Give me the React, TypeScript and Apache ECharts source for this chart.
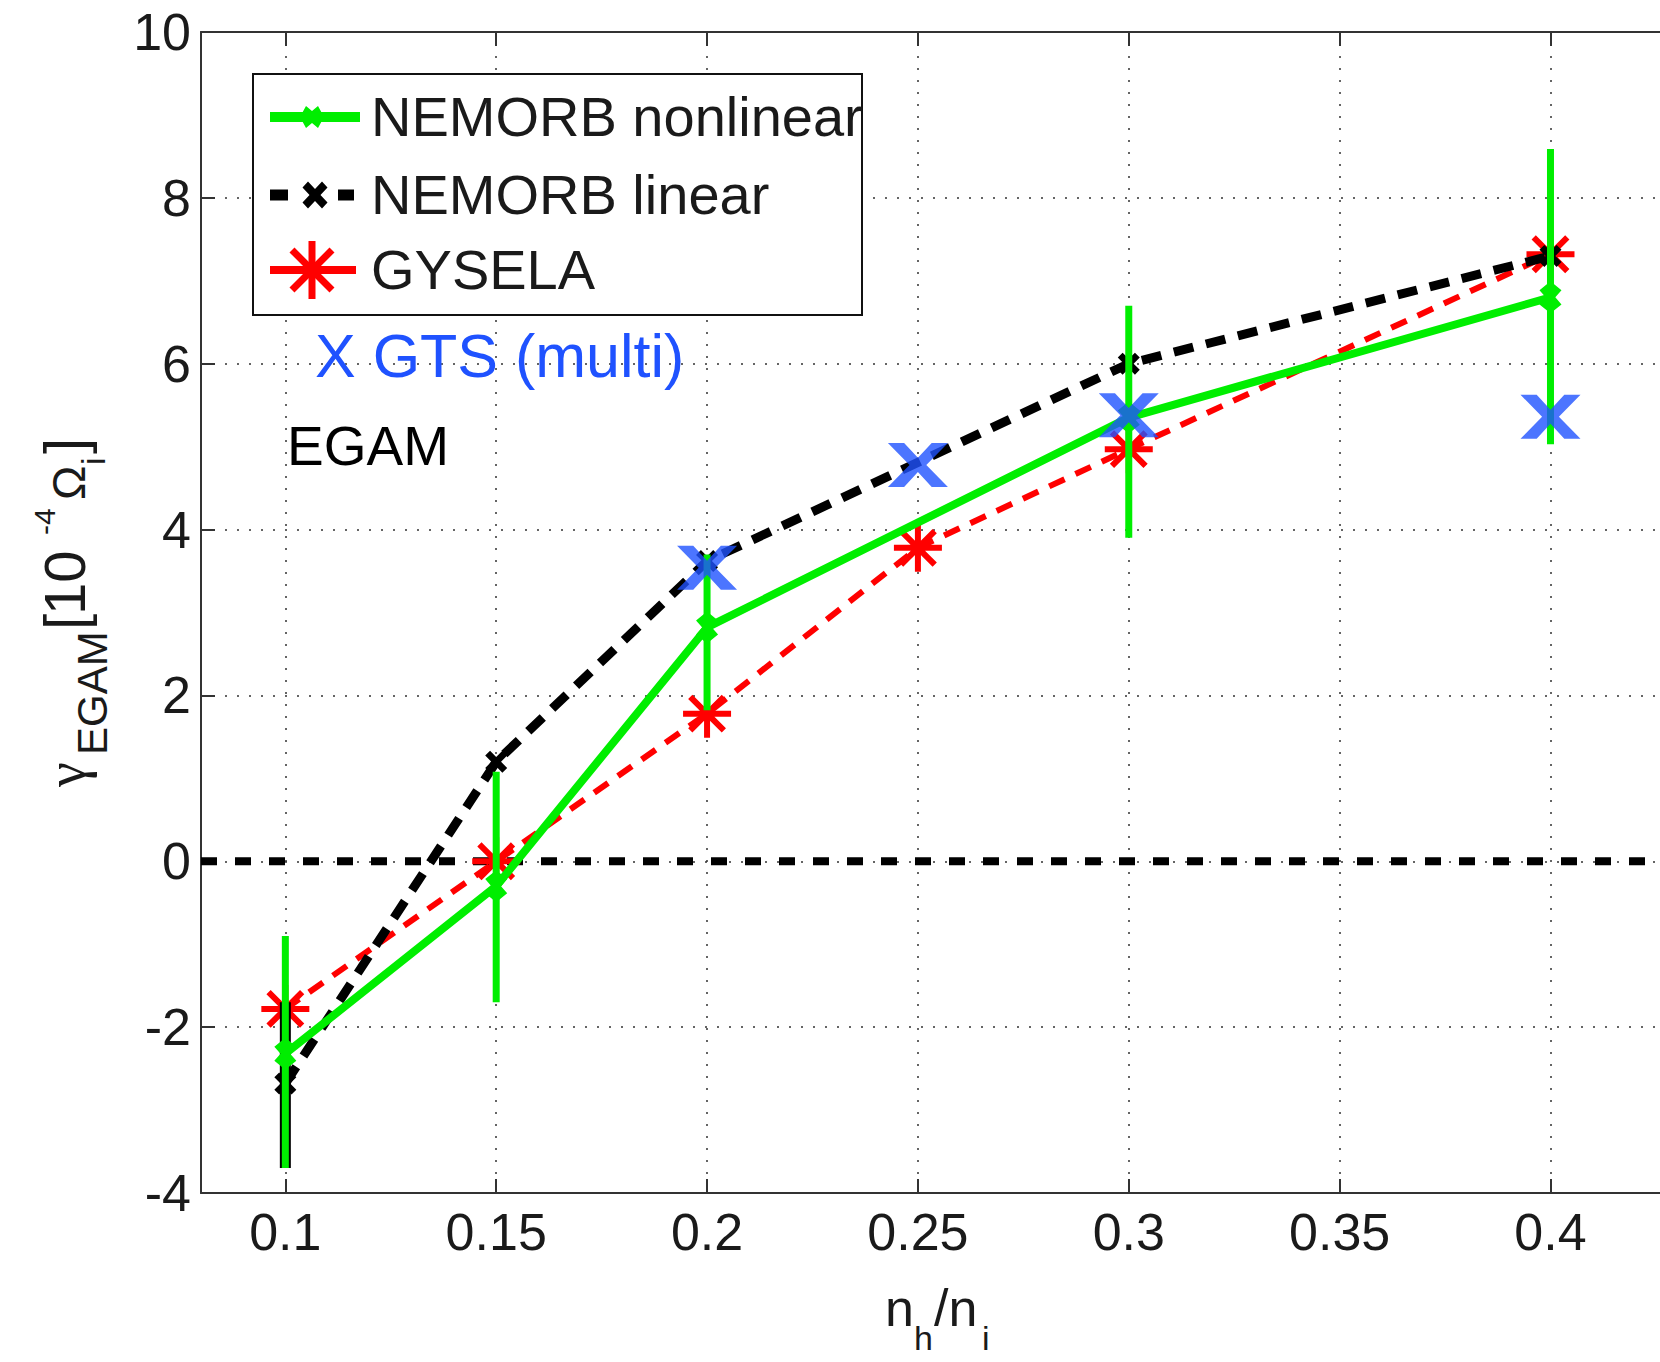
import React, { useEffect, useRef } from 'react';
import * as echarts from 'echarts';

// ---- axis ranges ----
const X_MIN = 0.08;
const X_MAX = 0.43;
const Y_MIN = -4;
const Y_MAX = 10;
const Y_STEP = 2;

// ---- NEMORB nonlinear (green, with error bars) ----
const nlX = [0.1, 0.15, 0.2, 0.3, 0.4];
const nlY = [-2.32, -0.3, 2.82, 5.35, 6.8];
const nlLow = [-3.7, -1.7, 1.82, 3.9, 5.03];
const nlHigh = [-0.9, 1.08, 3.7, 6.7, 8.59];

// ---- NEMORB linear (black dashed) ----
const linX = [0.1, 0.15, 0.2, 0.3, 0.4];
const linY = [-2.68, 1.2, 3.62, 6.0, 7.3];
const linErrX = [0.1];
const linLow = [-3.7];
const linHigh = [-1.7];

// ---- GYSELA (red dashed, asterisks) ----
const gyX = [0.1, 0.15, 0.2, 0.25, 0.3, 0.4];
const gyY = [-1.78, 0.0, 1.78, 3.78, 4.97, 7.32];

// ---- GTS (multi) (blue X) ----
const gtsX = [0.2, 0.25, 0.3, 0.4];
const gtsY = [3.54, 4.78, 5.38, 5.36];

// ---- zero reference line ----
const zeroX = [X_MIN, X_MAX];
const zeroY = [0, 0];

const legendLabels = ['NEMORB nonlinear', 'NEMORB linear', 'GYSELA'];

const GREEN = '#00ee00';
const RED = '#ff0000';
const BLUE = '#1f52ff';
const FONT = 'Liberation Sans';
const TXT = '#1a1a1a';

const STAR = 'path://M50 0L50 100M0 50L100 50M15 15L85 85M85 15L15 85';
const BIGX = 'path://M0 0L27 0L50 34L73 0L100 0L64 50L100 100L73 100L50 66L27 100L0 100L36 50Z';
const SMALLX = 'path://M0 22L22 0L50 28L78 0L100 22L72 50L100 78L78 100L50 72L22 100L0 78L28 50Z';
const DDIAMOND = 'path://M50 0L100 28L72 50L100 72L50 100L0 72L28 50L0 28Z';

const pair = (xs: number[], ys: number[]) => xs.map((x, i) => [x, ys[i]]);
const triple = (xs: number[], lo: number[], hi: number[]) => xs.map((x, i) => [x, lo[i], hi[i]]);

const txt = (text: string, x: number, baseline: number, fontSize: number, extra: any = {}) => ({
  type: 'text',
  x,
  y: baseline - 0.3465 * fontSize,
  z: 100,
  style: {
    text,
    fontSize,
    fontFamily: FONT,
    fill: TXT,
    align: 'left',
    verticalAlign: 'middle',
    ...extra,
  },
});

const xPoly = (cx: number, cy: number, w: number, h: number) =>
  [[0, 22], [22, 0], [50, 28], [78, 0], [100, 22], [72, 50], [100, 78], [78, 100], [50, 72], [22, 100], [0, 78], [28, 50]].map(
    ([a, b]) => [cx + ((a - 50) * w) / 100, cy + ((b - 50) * h) / 100]
  );

const errBarRender = (color: string, width: number) => (params: any, api: any) => {
  const x = api.value(0);
  const p1 = api.coord([x, api.value(1)]);
  const p2 = api.coord([x, api.value(2)]);
  return {
    type: 'line',
    shape: { x1: p1[0], y1: p1[1], x2: p2[0], y2: p2[1] },
    style: { stroke: color, lineWidth: width },
  };
};

export default function App() {
  const ref = useRef<HTMLDivElement>(null);

  useEffect(() => {
    if (!ref.current) return;
    const chart = echarts.init(ref.current, undefined, { renderer: 'svg' });

    const axisLineStyle = { color: '#333', width: 2 };
    const gridLine = { show: true, lineStyle: { type: [2, 10], color: '#333', width: 1.5 } };

    const legendRows = [117, 195, 270];

    const option: any = {
      animation: false,
      backgroundColor: '#fff',
      grid: {
        left: 201,
        top: 32,
        width: 1476,
        height: 1161,
        containLabel: false,
        outerBoundsMode: 'none',
      },
      xAxis: [
        {
          type: 'value',
          min: X_MIN,
          max: X_MAX,
          splitNumber: 7,
          position: 'bottom',
          axisLine: { onZero: false, lineStyle: axisLineStyle },
          axisTick: { inside: true, length: 14, lineStyle: axisLineStyle },
          axisLabel: {
            showMinLabel: false,
            showMaxLabel: false,
            fontSize: 52,
            fontFamily: FONT,
            color: TXT,
            margin: 13,
          },
          splitLine: gridLine,
        },
        {
          type: 'value',
          min: X_MIN,
          max: X_MAX,
          splitNumber: 7,
          position: 'top',
          axisLine: { onZero: false, lineStyle: axisLineStyle },
          axisTick: { inside: true, length: 14, lineStyle: axisLineStyle },
          axisLabel: { show: false },
          splitLine: { show: false },
        },
      ],
      yAxis: {
        type: 'value',
        min: Y_MIN,
        max: Y_MAX,
        interval: Y_STEP,
        axisLine: { show: true, onZero: false, lineStyle: axisLineStyle },
        axisTick: { show: true, inside: true, length: 14, lineStyle: axisLineStyle },
        axisLabel: { fontSize: 52, fontFamily: FONT, color: TXT, margin: 10 },
        splitLine: gridLine,
      },
      series: [
        {
          name: 'zero',
          type: 'line',
          data: pair(zeroX, zeroY),
          showSymbol: false,
          silent: true,
          lineStyle: { color: '#000', width: 8, type: [16, 18] },
          z: 2,
        },
        {
          name: 'GYSELA',
          type: 'line',
          data: pair(gyX, gyY),
          symbol: STAR,
          symbolSize: 48,
          itemStyle: { color: 'rgba(0,0,0,0)', borderColor: RED, borderWidth: 6 },
          lineStyle: { color: RED, width: 6, type: [17, 12] },
          z: 3,
        },
        {
          name: 'linErr',
          type: 'custom',
          data: triple(linErrX, linLow, linHigh),
          encode: { x: 0, y: [1, 2] },
          renderItem: errBarRender('#000', 11),
          z: 4,
        },
        {
          name: 'NEMORB linear',
          type: 'line',
          data: pair(linX, linY),
          symbol: SMALLX,
          symbolSize: 22,
          itemStyle: { color: '#000' },
          lineStyle: { color: '#000', width: 9, type: [20, 13] },
          z: 4,
        },
        {
          name: 'nlErr',
          type: 'custom',
          data: triple(nlX, nlLow, nlHigh),
          encode: { x: 0, y: [1, 2] },
          renderItem: errBarRender(GREEN, 7),
          z: 5,
        },
        {
          name: 'NEMORB nonlinear',
          type: 'line',
          data: pair(nlX, nlY),
          symbol: DDIAMOND,
          symbolSize: [22, 32],
          itemStyle: { color: GREEN },
          lineStyle: { color: GREEN, width: 8 },
          z: 5,
        },
        {
          name: 'GTS (multi)',
          type: 'scatter',
          data: pair(gtsX, gtsY),
          symbol: BIGX,
          symbolSize: [60, 44],
          itemStyle: { color: BLUE },
          z: 6,
        },
      ],
      graphic: [
        // legend box
        {
          type: 'rect',
          z: 99,
          shape: { x: 253, y: 74, width: 609, height: 241 },
          style: { fill: '#fff', stroke: '#111', lineWidth: 2 },
        },
        // green sample
        {
          type: 'line',
          z: 100,
          shape: { x1: 270, y1: legendRows[0], x2: 360, y2: legendRows[0] },
          style: { stroke: GREEN, lineWidth: 10 },
        },
        {
          type: 'polygon',
          z: 101,
          shape: {
            points: [
              [300, legendRows[0]], [306, legendRows[0] - 11], [312, legendRows[0] - 6], [318, legendRows[0] - 11],
              [324, legendRows[0]], [318, legendRows[0] + 11], [312, legendRows[0] + 6], [306, legendRows[0] + 11],
            ],
          },
          style: { fill: GREEN },
        },
        // black sample
        {
          type: 'line',
          z: 100,
          shape: { x1: 270, y1: legendRows[1], x2: 288, y2: legendRows[1] },
          style: { stroke: '#000', lineWidth: 11 },
        },
        {
          type: 'line',
          z: 100,
          shape: { x1: 338, y1: legendRows[1], x2: 354, y2: legendRows[1] },
          style: { stroke: '#000', lineWidth: 11 },
        },
        {
          type: 'polygon',
          z: 101,
          shape: { points: xPoly(315, legendRows[1], 25, 27) },
          style: { fill: '#000' },
        },
        // red sample
        {
          type: 'line',
          z: 100,
          shape: { x1: 270, y1: legendRows[2], x2: 356, y2: legendRows[2] },
          style: { stroke: RED, lineWidth: 8 },
        },
        {
          type: 'line',
          z: 101,
          shape: { x1: 312, y1: legendRows[2] - 29, x2: 312, y2: legendRows[2] + 29 },
          style: { stroke: RED, lineWidth: 7 },
        },
        {
          type: 'line',
          z: 101,
          shape: { x1: 292, y1: legendRows[2] - 20, x2: 332, y2: legendRows[2] + 20 },
          style: { stroke: RED, lineWidth: 7 },
        },
        {
          type: 'line',
          z: 101,
          shape: { x1: 332, y1: legendRows[2] - 20, x2: 292, y2: legendRows[2] + 20 },
          style: { stroke: RED, lineWidth: 7 },
        },
        txt(legendLabels[0], 371, legendRows[0] + 19, 56),
        txt(legendLabels[1], 371, legendRows[1] + 19, 56),
        txt(legendLabels[2], 371, legendRows[2] + 19, 56),
        // annotations
        txt('X GTS (multi)', 315, 377, 61, { fill: BLUE }),
        txt('EGAM', 287, 465, 55, { fill: '#000' }),
        // x axis title n_h/n_i
        txt('n', 885, 1326, 52),
        txt('h', 914, 1350, 34),
        txt('/n', 934, 1326, 52),
        txt('i', 982, 1350, 34),
        // y axis title  gamma_EGAM [10^-4 Omega_i]
        {
          type: 'group',
          x: 85,
          y: 787,
          rotation: Math.PI / 2,
          z: 100,
          children: [
            txt('γ', 0, 0, 56, { fontFamily: 'Liberation Serif' }),
            txt('EGAM', 32, 22, 42),
            txt('[', 157, 0, 58),
            txt('10', 172, 0, 58),
            txt('-4', 252, -30, 30),
            txt('Ω', 287, 0, 46),
            txt('i', 322, 20, 34),
            txt(']', 333, 0, 58),
          ],
        },
      ],
    };

    chart.setOption(option);
    return () => chart.dispose();
  }, []);

  return (
    <div
      ref={ref}
      style={{ position: 'absolute', left: 0, top: 0, width: 1660, height: 1362, background: '#fff' }}
    />
  );
}
